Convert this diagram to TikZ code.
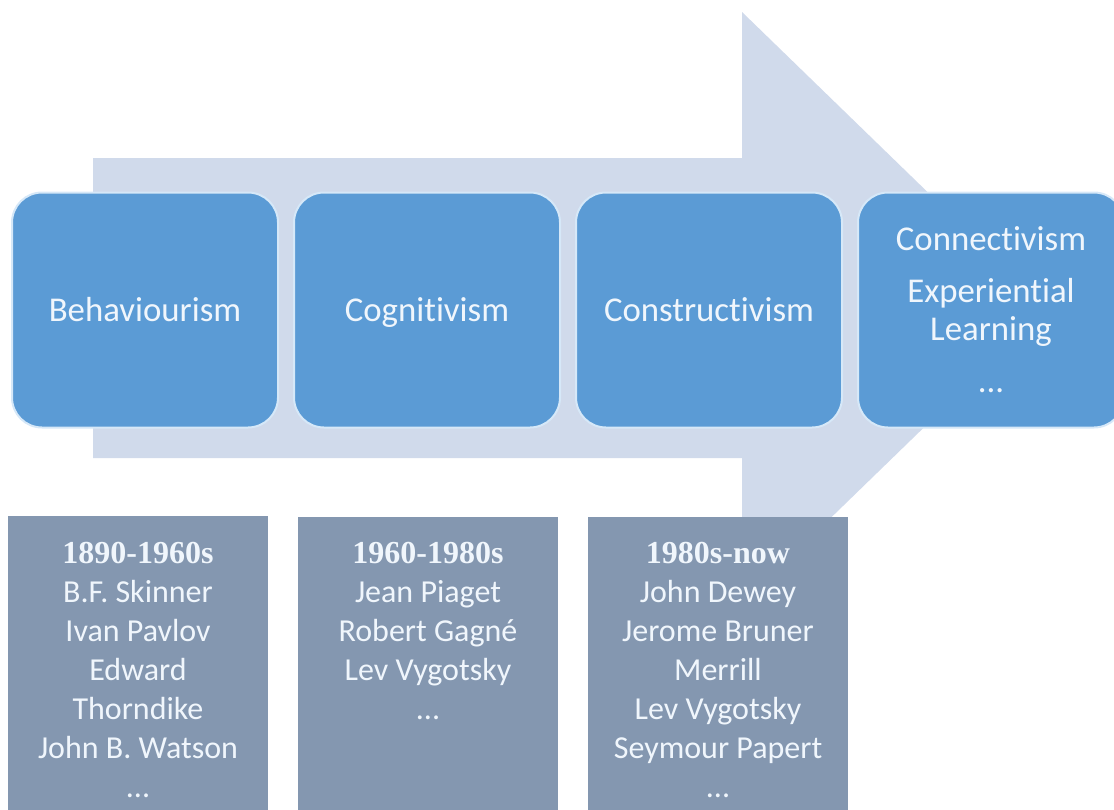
\documentclass[tikz,border=0pt]{standalone}
\usepackage{fontspec}
\setmainfont{Carlito}[Ligatures=CommonOff]
\newfontfamily\yearfont{Liberation Serif}
\usepackage{xcolor}
\usepackage{tikz}

\definecolor{arrowfill}{RGB}{208,218,235}
\definecolor{stagefill}{RGB}{91,155,213}
\definecolor{stageline}{RGB}{214,232,248}
\definecolor{peoplefill}{RGB}{132,151,176}
\definecolor{textwhite}{RGB}{240,246,252}

\begin{document}
\begin{tikzpicture}[x=0.5pt,y=-0.5pt,
    stage/.style={draw=stageline, line width=1pt, fill=stagefill, rounded corners=15pt,
      minimum width=133pt, minimum height=117.5pt, inner sep=2pt, align=center,
      text=textwhite, font=\fontsize{17.4}{19}\selectfont},
    people/.style={anchor=north, inner sep=0pt, align=center, text=textwhite,
      font=\fontsize{16}{19.5}\selectfont}]
    \useasboundingbox (0,0) rectangle (1114,809);
    \clip (0,0) rectangle (1114,809);
    % big arrow behind the stages
    \fill[arrowfill] (93,158) -- (742,158) -- (742,12) -- (1047,308)
      -- (742,604) -- (742,458) -- (93,458) -- cycle;
    % stages
    \node[stage] (B) at (145,310) {Behaviourism};
    \node[stage, text depth=0pt] (C) at (427,310) {Cognitivism};
    \node[stage] (K) at (709,310) {Constructivism};
    \node[stage] (N) at (991,310) {Connectivism\\[7pt]Experiential\\Learning\\[7pt]...};
    % people per stage
    \fill[peoplefill] (8,516) rectangle (268,840);
    \fill[peoplefill] (298,517) rectangle (558,840);
    \fill[peoplefill] (588,517) rectangle (848,840);
    \node[people] (PB) at (138,542) {{\yearfont\bfseries 1890-1960s}\\B.F. Skinner\\Ivan Pavlov\\Edward\\Thorndike\\John B. Watson\\...};
    \node[people] (PC) at (428,542) {{\yearfont\bfseries 1960-1980s}\\Jean Piaget\\Robert Gagné\\Lev Vygotsky\\...};
    \node[people] (PK) at (718,542) {{\yearfont\bfseries 1980s-now}\\John Dewey\\Jerome Bruner\\Merrill\\Lev Vygotsky\\Seymour Papert\\...};
  \end{tikzpicture}
\end{document}
